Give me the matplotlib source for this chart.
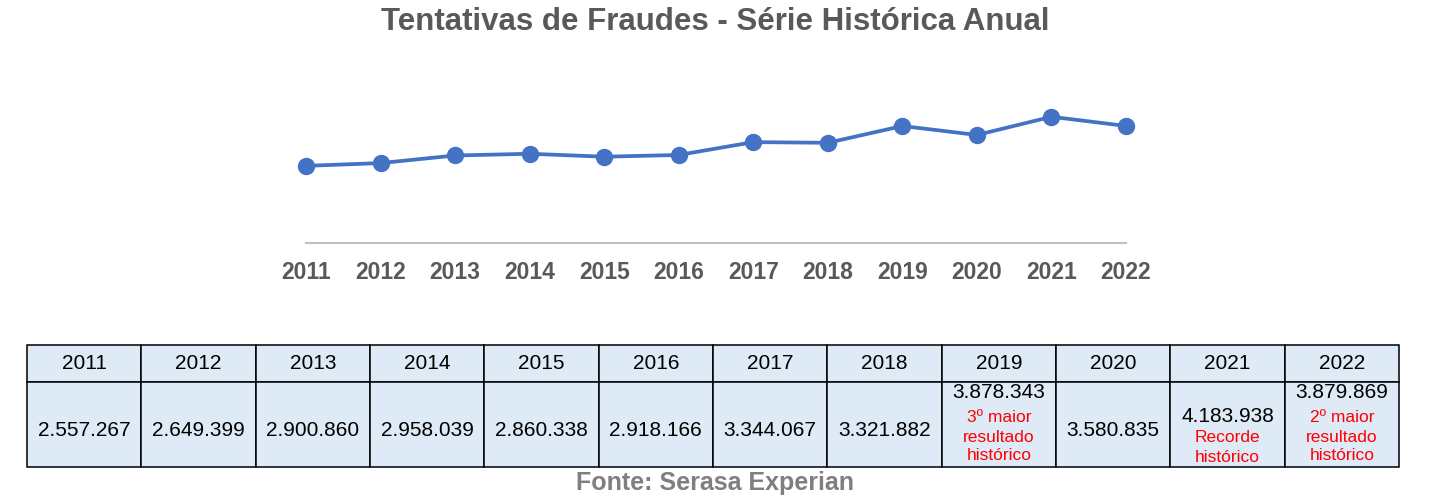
import matplotlib
matplotlib.use("Agg")
import matplotlib.pyplot as plt
from matplotlib.patches import Rectangle

# data
years = ["2011", "2012", "2013", "2014", "2015", "2016",
         "2017", "2018", "2019", "2020", "2021", "2022"]
attempts = [2557267, 2649399, 2900860, 2958039, 2860338, 2918166,
            3344067, 3321882, 3878343, 3580835, 4183938, 3879869]
notes = {"2019": "3º maior\nresultado\nhistórico",
         "2021": "Recorde\nhistórico",
         "2022": "2º maior\nresultado\nhistórico"}

plt.rcParams['font.family'] = ['Liberation Sans', 'DejaVu Sans']

W, H = 1431, 497
fig = plt.figure(figsize=(W / 100, H / 100), dpi=100)

def fmt(v):
    return f"{v:,}".replace(",", ".")

# line chart
ax = fig.add_axes([306 / W, 1 - 243 / H, 820 / W, 181 / H])
xs = list(range(len(years)))
ax.plot(xs, attempts, color="#4472C4", lw=2.7, marker="o", ms=11.5,
        solid_capstyle="round", clip_on=False, zorder=3)
ax.set_xlim(0, len(years) - 1)
ax.set_ylim(0, 6000000)
ax.set_xticks(xs)
ax.set_xticklabels(years, fontsize=16.5, fontweight="bold", color="#595959")
ax.tick_params(axis="x", length=0, pad=13)
ax.set_yticks([])
for s in ["top", "right", "left"]:
    ax.spines[s].set_visible(False)
ax.spines["bottom"].set_color("#BFBFBF")
ax.spines["bottom"].set_linewidth(1.5)

fig.text(0.5, 1 - 22 / H, "Tentativas de Fraudes - Série Histórica Anual",
         ha="center", va="center", fontsize=22.5, fontweight="bold",
         color="#595959")

# table
tb = fig.add_axes([27 / W, 1 - 467 / H, 1372 / W, 122 / H])
tb.set_xlim(0, len(years))
tb.set_ylim(122, 0)
tb.axis("off")
hdr_h = 37
for i, yr in enumerate(years):
    tb.add_patch(Rectangle((i, 0), 1, hdr_h, facecolor="#DEEAF6",
                           edgecolor="black", lw=1.1, clip_on=False))
    tb.add_patch(Rectangle((i, hdr_h), 1, 122 - hdr_h, facecolor="#DEEAF6",
                           edgecolor="black", lw=1.1, clip_on=False))
    tb.text(i + 0.5, 18.5, yr, ha="center", va="center", fontsize=15)
    val = fmt(attempts[i])
    if yr in notes:
        n_lines = notes[yr].count("\n") + 1
        top = 48 if n_lines == 3 else 71
        tb.text(i + 0.5, top, val, ha="center", va="center", fontsize=15)
        for k, line in enumerate(notes[yr].split("\n")):
            tb.text(i + 0.5, top + 25 + k * 19 - (0 if n_lines == 3 else 3), line,
                    ha="center", va="center", fontsize=12.5, color="#FF0000")
    else:
        tb.text(i + 0.5, 85, val, ha="center", va="center", fontsize=15)

fig.text(0.5, 1 - 483 / H, "Fonte: Serasa Experian", ha="center", va="center",
         fontsize=18, fontweight="bold", color="#7F7F7F")

fig.savefig("out.png", dpi=100)
